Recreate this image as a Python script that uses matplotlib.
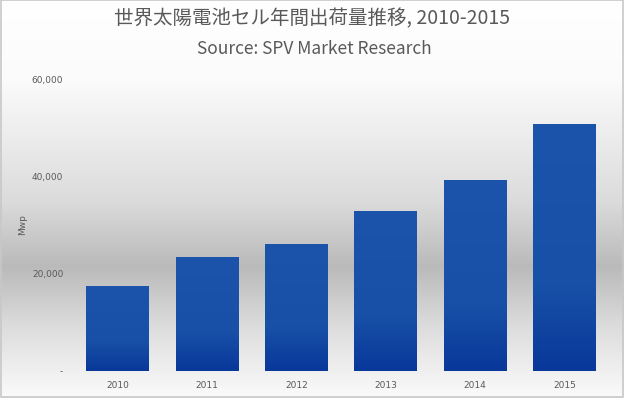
import numpy as np
import matplotlib.pyplot as plt
from matplotlib.colors import LinearSegmentedColormap

plt.rcParams['font.family'] = ['Noto Sans CJK JP', 'DejaVu Sans']

years = ['2010', '2011', '2012', '2013', '2014', '2015']
shipments = [17500, 23400, 26100, 32900, 39300, 50800]
yticks = [0, 20000, 40000, 60000]
ytick_labels = ['-', '20,000', '40,000', '60,000']

title = '世界太陽電池セル年間出荷量推移, 2010-2015'
subtitle = 'Source: SPV Market Research'

fig = plt.figure(figsize=(6.24, 3.98), dpi=100)

# background gradient: white at top, gray band low, lighter at bottom
bg = fig.add_axes([0, 0, 1, 1], zorder=0)
stops = [(0.0, '#ffffff'), (0.2, '#fbfbfb'), (0.5, '#dcdcdc'),
         (0.67, '#bababa'), (0.82, '#dcdcdc'), (1.0, '#fbfbfb')]
bg_cmap = LinearSegmentedColormap.from_list('bg', stops)
bg.imshow(np.linspace(0, 1, 256).reshape(-1, 1), aspect='auto',
          cmap=bg_cmap, extent=[0, 1, 1, 0])
bg.set_xlim(0, 1)
bg.set_ylim(1, 0)
bg.axis('off')
bg.add_patch(plt.Rectangle((0.001, 0.001), 0.997, 0.996, fill=False,
                           edgecolor='#c8c8c8', lw=1.2))

ax = fig.add_axes([73 / 624, 1 - 371 / 398, 536 / 624, 292 / 398], zorder=1)
ax.patch.set_alpha(0)
x = np.arange(len(years))
bars = ax.bar(x, shipments, width=0.7, color='none', edgecolor='none')

bar_cmap = LinearSegmentedColormap.from_list(
    'bar', [(0, '#08389a'), (0.35, '#1850a7'), (1, '#1b54aa')])
grad = np.linspace(0, 1, 256).reshape(-1, 1)
for b in bars:
    x0, y0 = b.get_x(), b.get_y()
    im = ax.imshow(grad, aspect='auto', cmap=bar_cmap, origin='lower',
                   extent=[x0, x0 + b.get_width(), y0, y0 + b.get_height()],
                   zorder=2)
    im.set_clip_path(b)

ax.set_xlim(-0.5, len(years) - 0.5)
ax.set_ylim(0, 60000)
ax.set_xticks(x)
ax.set_xticklabels(years, fontsize=6.5, color='#595959', family='DejaVu Sans')
ax.set_yticks(yticks)
ax.set_yticklabels(ytick_labels, fontsize=6.5, color='#595959', family='DejaVu Sans')
ax.tick_params(length=0, pad=7)
for s in ax.spines.values():
    s.set_visible(False)
ax.set_ylabel('Mwp', fontsize=6.5, color='#595959', family='DejaVu Sans', labelpad=3)

fig.text(0.5, 1 - 19 / 398, title, ha='center', va='center', fontsize=14, color='#595959')
fig.text(0.503, 1 - 49 / 398, subtitle, ha='center', va='center', fontsize=12.5,
         color='#595959')

fig.savefig('out.png', dpi=100)
